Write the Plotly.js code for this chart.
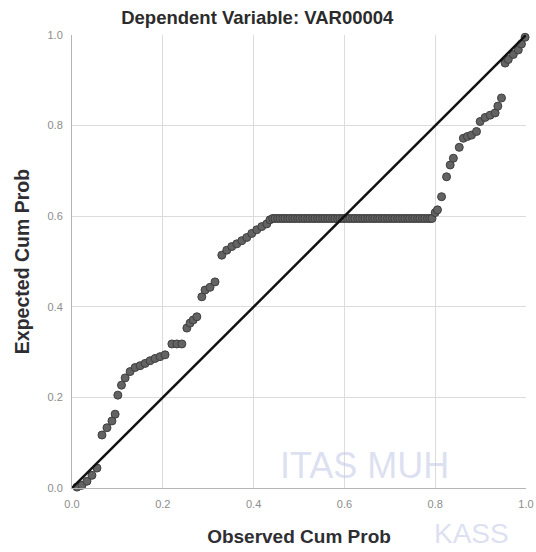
<!DOCTYPE html>
<html>
<head>
<meta charset="utf-8">
<script src="https://cdn.plot.ly/plotly-3.0.1.min.js"></script>
<style>html,body{margin:0;padding:0;background:#fff;}#chart{width:536px;height:552px;}</style>
</head>
<body>
<div id="chart"></div>
<script>
// Tick labels
const tickVals = [0, 0.2, 0.4, 0.6, 0.8, 1.0];
const tickText = ['0.0', '0.2', '0.4', '0.6', '0.8', '1.0'];

// Observed cumulative probability (x) and expected cumulative probability (y)
const observedCumProb = [
  0.011, 0.022, 0.033, 0.044, 0.055, 0.066, 0.077, 0.088, 0.095, 0.101,
  0.109, 0.117, 0.128, 0.139, 0.150, 0.161, 0.172, 0.183, 0.194, 0.205,
  0.220, 0.231, 0.242, 0.253, 0.260, 0.267, 0.275, 0.286, 0.293, 0.304,
  0.315, 0.330, 0.341, 0.352, 0.363, 0.374, 0.385, 0.396, 0.407, 0.418,
  0.429, 0.436,
  0.442, 0.447, 0.453, 0.458, 0.464, 0.469, 0.475, 0.480, 0.486, 0.491,
  0.497, 0.502, 0.508, 0.513, 0.519, 0.524, 0.530, 0.535, 0.541, 0.546,
  0.552, 0.557, 0.563, 0.568, 0.574, 0.579, 0.585, 0.590, 0.596, 0.601,
  0.607, 0.612, 0.618, 0.623, 0.629, 0.634, 0.640, 0.645, 0.651, 0.656,
  0.662, 0.667, 0.673, 0.678, 0.684, 0.689, 0.695, 0.700, 0.706, 0.711,
  0.717, 0.722, 0.728, 0.733, 0.739, 0.744, 0.750, 0.755, 0.761, 0.766,
  0.772, 0.777, 0.783, 0.788, 0.793,
  0.800, 0.805, 0.814, 0.825, 0.833, 0.840, 0.853, 0.862, 0.871, 0.880,
  0.891, 0.899, 0.910, 0.921, 0.932, 0.938, 0.946, 0.954, 0.961, 0.972,
  0.983, 0.990, 0.998
];
const expectedCumProb = [
  0.002, 0.006, 0.015, 0.028, 0.044, 0.117, 0.133, 0.148, 0.163, 0.205,
  0.227, 0.243, 0.257, 0.266, 0.270, 0.275, 0.281, 0.286, 0.290, 0.294,
  0.318, 0.318, 0.318, 0.353, 0.364, 0.371, 0.378, 0.422, 0.437, 0.443,
  0.455, 0.514, 0.525, 0.533, 0.539, 0.546, 0.553, 0.562, 0.570, 0.577,
  0.583, 0.592,
  0.595, 0.595, 0.595, 0.595, 0.595, 0.595, 0.595, 0.595, 0.595, 0.595,
  0.595, 0.595, 0.595, 0.595, 0.595, 0.595, 0.595, 0.595, 0.595, 0.595,
  0.595, 0.595, 0.595, 0.595, 0.595, 0.595, 0.595, 0.595, 0.595, 0.595,
  0.595, 0.595, 0.595, 0.595, 0.595, 0.595, 0.595, 0.595, 0.595, 0.595,
  0.595, 0.595, 0.595, 0.595, 0.595, 0.595, 0.595, 0.595, 0.595, 0.595,
  0.595, 0.595, 0.595, 0.595, 0.595, 0.595, 0.595, 0.595, 0.595, 0.595,
  0.595, 0.595, 0.595, 0.595, 0.595,
  0.608, 0.614, 0.643, 0.687, 0.713, 0.728, 0.752, 0.772, 0.776, 0.779,
  0.787, 0.809, 0.818, 0.823, 0.828, 0.843, 0.861, 0.938, 0.946, 0.957,
  0.967, 0.980, 0.995
];

// Reference diagonal
const refX = [0, 1];
const refY = [0, 1];

const traces = [
  {
    x: observedCumProb, y: expectedCumProb, type: 'scatter', mode: 'markers',
    marker: {size: 8, color: '#636363', line: {color: '#3e3e3e', width: 1}},
    cliponaxis: false, hoverinfo: 'x+y', showlegend: false
  },
  {
    x: refX, y: refY, type: 'scatter', mode: 'lines',
    line: {color: '#111111', width: 2.5}, showlegend: false, hoverinfo: 'skip'
  }
];

const axisCommon = {
  range: [0, 1], tickvals: tickVals, ticktext: tickText,
  showgrid: true, gridcolor: '#dcdcdc', gridwidth: 1,
  zeroline: false, showline: true, linecolor: '#b5b5b5', linewidth: 1,
  ticks: '', ticklabelstandoff: 6,
  tickfont: {family: 'Liberation Sans, Arial, sans-serif', size: 11, color: '#8c8c8c'},
  fixedrange: true
};

const layout = {
  width: 536, height: 552,
  margin: {l: 72, r: 10, t: 35, b: 64},
  paper_bgcolor: '#ffffff', plot_bgcolor: '#ffffff',
  title: {
    text: '<b>Dependent Variable: VAR00004</b>',
    font: {family: 'Liberation Sans, Arial, sans-serif', size: 18.5, color: '#2b2b2b'},
    x: 0.48, xanchor: 'center', xref: 'container',
    y: 0.969, yanchor: 'middle', yref: 'container'
  },
  xaxis: Object.assign({}, axisCommon, {
    title: {text: '<b>Observed Cum Prob</b>', standoff: 20,
      font: {family: 'Liberation Sans, Arial, sans-serif', size: 19, color: '#2e2e33'}}
  }),
  yaxis: Object.assign({}, axisCommon, {
    title: {text: '<b>Expected Cum Prob</b>', standoff: 12,
      font: {family: 'Liberation Sans, Arial, sans-serif', size: 19.5, color: '#2e2e33'}}
  }),
  annotations: [
    {text: 'ITAS MUH', xref: 'paper', yref: 'paper', x: 0.645, y: 0.049,
     xanchor: 'center', yanchor: 'middle',
     showarrow: false, textangle: 0,
     font: {family: 'Liberation Sans, Arial, sans-serif', size: 36, color: 'rgba(198,203,232,0.6)'}},
    {text: 'KASS', xref: 'paper', yref: 'paper', x: 0.88, y: -0.1,
     xanchor: 'center', yanchor: 'middle',
     showarrow: false, textangle: 0,
     font: {family: 'Liberation Sans, Arial, sans-serif', size: 28, color: 'rgba(198,203,232,0.6)'}}
  ]
};

Plotly.newPlot('chart', traces, layout, {displayModeBar: false, staticPlot: true});
</script>
</body>
</html>
